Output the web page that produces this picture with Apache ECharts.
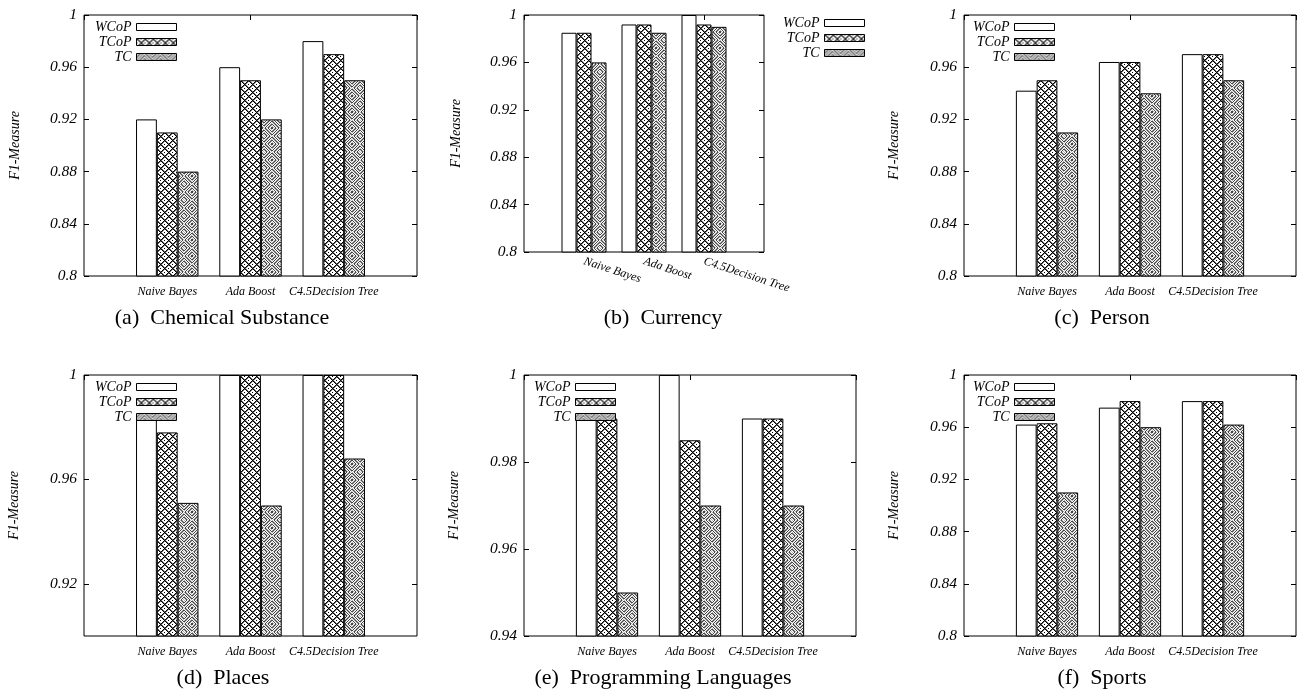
<!DOCTYPE html>
<html><head><meta charset="utf-8">
<script src="https://cdn.jsdelivr.net/npm/echarts@6/dist/echarts.min.js"></script>
<style>html,body{margin:0;padding:0;background:#fff}#c{width:1298px;height:693px}</style>
</head><body><div id="c"></div>
<script>
// ---------------- data ----------------
const categories = ['Naive Bayes', 'Ada Boost', 'C4.5Decision Tree'];
const seriesNames = ['WCoP', 'TCoP', 'TC'];
const panelTitles = ['(a)  Chemical Substance', '(b)  Currency', '(c)  Person',
                     '(d)  Places', '(e)  Programming Languages', '(f)  Sports'];
const yAxisName = 'F1-Measure';

const chemicalWCoP = [0.92, 0.96, 0.98];
const chemicalTCoP = [0.91, 0.95, 0.97];
const chemicalTC   = [0.88, 0.92, 0.95];

const currencyWCoP = [0.985, 0.992, 1.0];
const currencyTCoP = [0.985, 0.992, 0.992];
const currencyTC   = [0.96, 0.985, 0.99];

const personWCoP = [0.942, 0.964, 0.97];
const personTCoP = [0.95, 0.964, 0.97];
const personTC   = [0.91, 0.94, 0.95];

const placesWCoP = [0.983, 1.0, 1.0];
const placesTCoP = [0.978, 1.0, 1.0];
const placesTC   = [0.951, 0.95, 0.968];

const progWCoP = [0.99, 1.0, 0.99];
const progTCoP = [0.99, 0.985, 0.99];
const progTC   = [0.95, 0.97, 0.97];

const sportsWCoP = [0.962, 0.975, 0.98];
const sportsTCoP = [0.963, 0.98, 0.98];
const sportsTC   = [0.91, 0.96, 0.962];

const ticksFull   = [0.8, 0.84, 0.88, 0.92, 0.96, 1];
const ticksPlaces = [0.92, 0.96, 1];
const ticksProg   = [0.94, 0.96, 0.98, 1];
const rangeFull   = [0.8, 1];
const rangePlaces = [0.9, 1];
const rangeProg   = [0.94, 1];

const panelSeries = [
  [chemicalWCoP, chemicalTCoP, chemicalTC],
  [currencyWCoP, currencyTCoP, currencyTC],
  [personWCoP, personTCoP, personTC],
  [placesWCoP, placesTCoP, placesTC],
  [progWCoP, progTCoP, progTC],
  [sportsWCoP, sportsTCoP, sportsTC]
];
const panelTicks  = [ticksFull, ticksFull, ticksFull, ticksPlaces, ticksProg, ticksFull];
const panelRanges = [rangeFull, rangeFull, rangeFull, rangePlaces, rangeProg, rangeFull];

// ---------------- layout ----------------
const layout = [
  { grid: [84, 15, 333, 261],  legend: [1121, 20],  title: [222, 318], nameGap: 62, rotate: 0 },
  { grid: [524, 15, 240, 237], legend: [433, 16],   title: [663, 318], nameGap: 61, rotate: -18 },
  { grid: [964, 15, 332, 261], legend: [243, 20],   title: [1102, 318], nameGap: 63, rotate: 0 },
  { grid: [84, 375, 333, 261], legend: [1121, 380], title: [223, 678], nameGap: 63, rotate: 0 },
  { grid: [524, 375, 332, 261], legend: [682, 380], title: [663, 678], nameGap: 63, rotate: 0 },
  { grid: [964, 375, 332, 261], legend: [243, 380], title: [1102, 678], nameGap: 63, rotate: 0 }
];

const SERIF = '"Liberation Serif", "Times New Roman", serif';

function pattern(size, fn) {
  const c = document.createElement('canvas');
  c.width = size; c.height = size;
  const ctx = c.getContext('2d');
  ctx.fillStyle = '#fff'; ctx.fillRect(0, 0, size, size);
  for (let y = 0; y < size; y++) for (let x = 0; x < size; x++) {
    const v = fn(x, y);
    if (v) { ctx.fillStyle = v; ctx.fillRect(x, y, 1, 1); }
  }
  return c;
}
const patTCoP = pattern(8, (x, y) => {
  const a = (x - y + 16) % 8, b = (x + y) % 8;
  if (a === 0 || b === 0) return '#000';
  if (a === 1 || b === 1) return '#666';
  if ((x === 4 && y === 0) || (x === 0 && y === 4)) return '#000';
  return null;
});
const patTC = pattern(16, (x, y) => {
  const d = Math.abs(x - 7.5) + Math.abs(y - 7.5);
  if (Math.round(d) % 3 === 0) return '#444';
  if ((x + y) % 2 === 0) return '#b4b4b4';
  return null;
});
const fills = ['#ffffff', { image: patTCoP, repeat: 'repeat' }, { image: patTC, repeat: 'repeat' }];

const fmt = v => String(parseFloat(Number(v).toFixed(4)));
const padCats = [''].concat(categories, ['']);

const grids = [], xAxes = [], yAxes = [], series = [], legends = [], graphics = [];
layout.forEach((L, p) => {
  grids.push({
    left: L.grid[0], top: L.grid[1], width: L.grid[2], height: L.grid[3],
    show: true, borderColor: '#000', borderWidth: 1, backgroundColor: 'transparent',
    outerBoundsMode: 'none', containLabel: false
  });
  xAxes.push({
    type: 'category', gridIndex: p, position: 'bottom', data: padCats, boundaryGap: false,
    axisLine: { show: false }, axisTick: { show: false }, splitLine: { show: false },
    axisLabel: {
      interval: 0, margin: L.rotate ? 9 : 10, rotate: L.rotate,
      fontFamily: SERIF, fontStyle: 'italic', fontSize: 12, color: '#000'
    }
  });
  xAxes.push({
    type: 'category', gridIndex: p, position: 'top', data: padCats, boundaryGap: false,
    axisLine: { show: false }, splitLine: { show: false }, axisLabel: { show: false },
    axisTick: { show: true, inside: true, length: 5, lineStyle: { color: '#000', width: 1 } }
  });
  const ticks = panelTicks[p], range = panelRanges[p];
  yAxes.push({
    type: 'value', gridIndex: p, position: 'left', min: range[0], max: range[1],
    name: yAxisName, nameLocation: 'middle', nameGap: L.nameGap, nameRotate: 90,
    nameTextStyle: { fontFamily: SERIF, fontStyle: 'italic', fontSize: 14, color: '#000' },
    axisLine: { show: false }, splitLine: { show: false },
    axisTick: { show: true, inside: true, length: 5, customValues: ticks, lineStyle: { color: '#000' } },
    axisLabel: { customValues: ticks, formatter: fmt, margin: 7,
      fontFamily: SERIF, fontStyle: 'italic', fontSize: 15.5, color: '#000' }
  });
  yAxes.push({
    type: 'value', gridIndex: p, position: 'right', min: range[0], max: range[1],
    axisLine: { show: false }, splitLine: { show: false }, axisLabel: { show: false },
    axisTick: { show: true, inside: true, length: 5, customValues: ticks, lineStyle: { color: '#000' } }
  });
  panelSeries[p].forEach((arr, i) => {
    series.push({
      type: 'bar', name: seriesNames[i], xAxisIndex: 2 * p, yAxisIndex: 2 * p,
      data: ['-'].concat(arr, ['-']), barWidth: '25%', barGap: '0%',
      itemStyle: { color: fills[i], borderColor: '#000', borderWidth: 1 },
      emphasis: { disabled: true }, silent: true
    });
  });
  legends.push({
    data: seriesNames, orient: 'vertical', align: 'right', right: L.legend[0], top: L.legend[1],
    padding: 0, itemWidth: 40, itemHeight: 7, itemGap: 1, icon: 'rect', selectedMode: false,
    itemStyle: { borderColor: '#000', borderWidth: 1 },
    textStyle: { fontFamily: SERIF, fontStyle: 'italic', fontSize: 14, lineHeight: 14, color: '#000', padding: 0 }
  });
  graphics.push({
    type: 'text', x: L.title[0], y: L.title[1], silent: true,
    style: { text: panelTitles[p], font: '22px ' + SERIF, fill: '#000',
      textAlign: 'center', textVerticalAlign: 'middle' }
  });
});

const chart = echarts.init(document.getElementById('c'), null, { renderer: 'canvas' });
chart.setOption({
  animation: false,
  backgroundColor: '#fff',
  grid: grids, xAxis: xAxes, yAxis: yAxes, series: series, legend: legends,
  graphic: graphics
});
</script>
</body></html>
